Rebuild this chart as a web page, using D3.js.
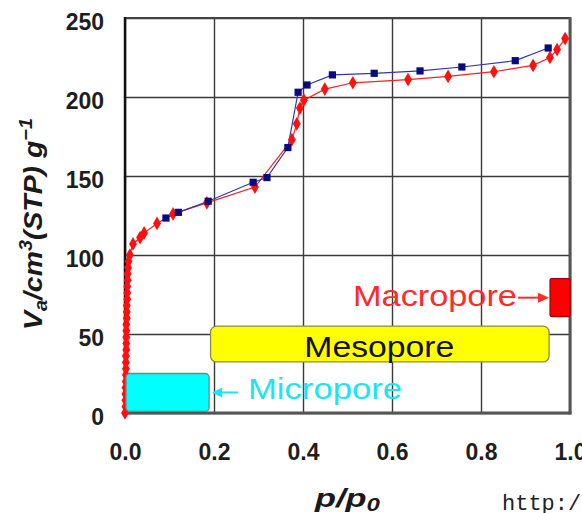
<!DOCTYPE html>
<html><head><meta charset="utf-8">
<script src="https://cdn.jsdelivr.net/npm/d3@7"></script>
<style>html,body{margin:0;padding:0;background:#fff;overflow:hidden}</style>
</head><body>
<svg id="chart" width="582" height="513"></svg>
<script>
// ---- data ----
const xTicks = [0, 0.2, 0.4, 0.6, 0.8, 1.0];
const yTicks = [0, 50, 100, 150, 200, 250];

// adsorption branch (red)
const adsP = [0.000,0.001,0.001,0.001,0.001,0.002,0.002,0.002,0.002,0.002,0.003,0.003,0.003,0.003,0.003,0.004,0.004,0.004,0.005,0.005,0.005,0.006,0.006,0.007,0.008,0.011,0.018,0.034,0.043,0.072,0.108,0.184,0.292,0.375,0.386,0.393,0.402,0.449,0.512,0.636,0.726,0.829,0.917,0.955,0.971,0.989];
const adsV = [0,4,8,12,16,20,24,28,32,36,40,44,48,52,56,60,64,68,72,76,80,84,88,92,96,100,107,111,114,120,126,133,143,173,183,193,198,205,209,211,213,216,220,225,230,237];

// desorption branch (blue)
const desP = [0.951,0.877,0.757,0.663,0.560,0.466,0.409,0.389,0.366,0.319,0.288,0.187,0.120,0.092];
const desV = [231,223,219,216.5,215,214,207.6,203,168,149,146,134,127,123.4];

// pore-size regions (p range, V range)
const poreNames = ["Micropore", "Mesopore", "Macropore"];
const poreP0 = [0.0, 0.19, 0.953];
const poreP1 = [0.189, 0.953, 1.0];
const poreV0 = [1, 32.3, 61];
const poreV1 = [25, 55, 85];

// ---- chart ----
const svg = d3.select("#chart");
const x = d3.scaleLinear().domain([0, 1]).range([125, 570]);
const y = d3.scaleLinear().domain([0, 250]).range([413, 18]);
const W = x(1) - x(0), H = y(0) - y(250);

// grid + tick labels via axes
const xAxis = svg.append("g").attr("transform", `translate(0,${y(0)})`)
  .call(d3.axisBottom(x).tickValues(xTicks).tickSize(-H).tickFormat(d3.format(".1f")));
const yAxis = svg.append("g").attr("transform", `translate(${x(0)},0)`)
  .call(d3.axisLeft(y).tickValues(yTicks).tickSize(-W).tickFormat(d3.format("d")));
[xAxis, yAxis].forEach(a => {
  a.select(".domain").remove();
  a.selectAll("line").attr("stroke", "#3a3a3a").attr("stroke-width", 1.4);
  a.selectAll("text").attr("fill", "#1e1e1e")
    .style("font-family", "'Liberation Sans', Arial, sans-serif")
    .style("font-weight", "bold").style("font-size", "23px");
});
xAxis.selectAll("text").attr("y", 47).attr("dy", 0);
yAxis.selectAll("text").attr("x", -21).attr("dy", "0.48em");

// frame
svg.append("line").attr("x1", x(0)).attr("x2", x(1)).attr("y1", y(250)).attr("y2", y(250))
  .attr("stroke", "#444").attr("stroke-width", 2);
svg.append("line").attr("x1", x(1)).attr("x2", x(1)).attr("y1", y(250) - 1).attr("y2", y(0) + 1.5)
  .attr("stroke", "#555").attr("stroke-width", 3);
svg.append("line").attr("x1", x(0)).attr("x2", x(1) + 1.5).attr("y1", y(0)).attr("y2", y(0))
  .attr("stroke", "#555").attr("stroke-width", 3);
svg.append("line").attr("x1", x(0)).attr("x2", x(0)).attr("y1", y(250) - 1).attr("y2", y(0) + 1.5)
  .attr("stroke", "#111").attr("stroke-width", 2.5);

// lines
const ads = adsP.map((p, i) => [p, adsV[i]]);
const des = desP.map((p, i) => [p, desV[i]]);
const line = d3.line().x(d => x(d[0])).y(d => y(d[1]));
svg.append("path").attr("d", line(ads)).attr("fill", "none").attr("stroke", "#ff2020").attr("stroke-width", 1.2);
svg.append("path").attr("d", line(des)).attr("fill", "none").attr("stroke", "#3434b0").attr("stroke-width", 1.2);

// markers
svg.append("g").selectAll("path").data(ads).join("path")
  .attr("transform", d => `translate(${x(d[0])},${y(d[1])})`)
  .attr("d", d3.symbol(d3.symbolDiamond, 54)).attr("fill", "#ff1010");
svg.append("g").selectAll("path").data(des).join("path")
  .attr("transform", d => `translate(${x(d[0])},${y(d[1])})`)
  .attr("d", d3.symbol(d3.symbolSquare, 52)).attr("fill", "#0a0a80");

// pore boxes
const boxFill = ["#00ffff", "#ffff00", "#ff0000"];
const boxStroke = ["#6a8a8a", "#8a8a50", "#a00000"];
const boxR = [4, 6, 1.5];
poreNames.forEach((n, i) => {
  svg.append("rect")
    .attr("x", x(poreP0[i]) + 1).attr("width", x(poreP1[i]) - x(poreP0[i]) - 1)
    .attr("y", y(poreV1[i])).attr("height", y(poreV0[i]) - y(poreV1[i]))
    .attr("rx", boxR[i]).attr("fill", boxFill[i]).attr("stroke", boxStroke[i]).attr("stroke-width", 1.3);
});

// fitted text helper
function fitText(parent, tx, ty, rot, target, build, style) {
  const g = parent.append("g");
  const t = g.append("text").style("font-family", "'Liberation Sans', Arial, sans-serif");
  Object.entries(style).forEach(([k, v]) => t.style(k, v));
  build(t);
  const w = t.node().getComputedTextLength();
  const sx = target / w;
  g.attr("transform", `translate(${tx},${ty}) rotate(${rot}) scale(${sx},1)`);
  return t;
}

// Mesopore label (centered in box)
const mesoCx = (x(poreP0[1]) + x(poreP1[1])) / 2;
fitText(svg, mesoCx - 75, 357, 0, 150, t => t.text(poreNames[1]), {"font-size": "30px", "fill": "#111"});
// Micropore label + arrow
const microCy = (y(poreV0[0]) + y(poreV1[0])) / 2;
fitText(svg, 248, 399, 0, 154, t => t.text(poreNames[0]), {"font-size": "30px", "fill": "#19e6f5"});
const ax0 = x(poreP1[0]) + 3;
svg.append("line").attr("x1", ax0 + 8).attr("x2", ax0 + 26).attr("y1", microCy).attr("y2", microCy)
  .attr("stroke", "#19e6f5").attr("stroke-width", 2);
svg.append("path").attr("d", `M${ax0},${microCy} L${ax0 + 10},${microCy - 5} L${ax0 + 10},${microCy + 5} Z`).attr("fill", "#19e6f5");
// Macropore label + arrow
const macroCy = (y(poreV0[2]) + y(poreV1[2])) / 2;
fitText(svg, 353, 306, 0, 164, t => t.text(poreNames[2]), {"font-size": "30px", "fill": "#ff2a2a"});
const bx1 = x(poreP0[2]);
svg.append("line").attr("x1", 518).attr("x2", bx1 - 8).attr("y1", macroCy).attr("y2", macroCy)
  .attr("stroke", "#ff2a2a").attr("stroke-width", 2);
svg.append("path").attr("d", `M${bx1},${macroCy} L${bx1 - 11},${macroCy - 5} L${bx1 - 11},${macroCy + 5} Z`).attr("fill", "#ff2a2a");

// y-axis title
fitText(svg, 42, 330, -90, 212, t => {
  t.append("tspan").text("V");
  t.append("tspan").attr("font-size", "70%").attr("dy", 5).text("a");
  t.append("tspan").attr("dy", -5).text("/cm");
  t.append("tspan").attr("font-size", "70%").attr("dy", -10).text("3");
  t.append("tspan").attr("dy", 10).text("(STP) g");
  t.append("tspan").attr("font-size", "70%").attr("dy", -10).text("\u22121");
}, {"font-size": "26px", "font-weight": "bold", "font-style": "italic", "fill": "#1a1a1a"});

// x-axis title
fitText(svg, 315, 507, 0, 65, t => {
  t.append("tspan").text("p/p");
  t.append("tspan").attr("font-size", "70%").attr("dy", 4).text("0");
}, {"font-size": "26px", "font-weight": "bold", "font-style": "italic", "fill": "#1a1a1a"});

// source url fragment
svg.append("text").attr("x", 502).attr("y", 510)
  .style("font-family", "'Liberation Mono', monospace").style("font-size", "22px").attr("fill", "#222")
  .text("http://");
</script>
</body></html>
